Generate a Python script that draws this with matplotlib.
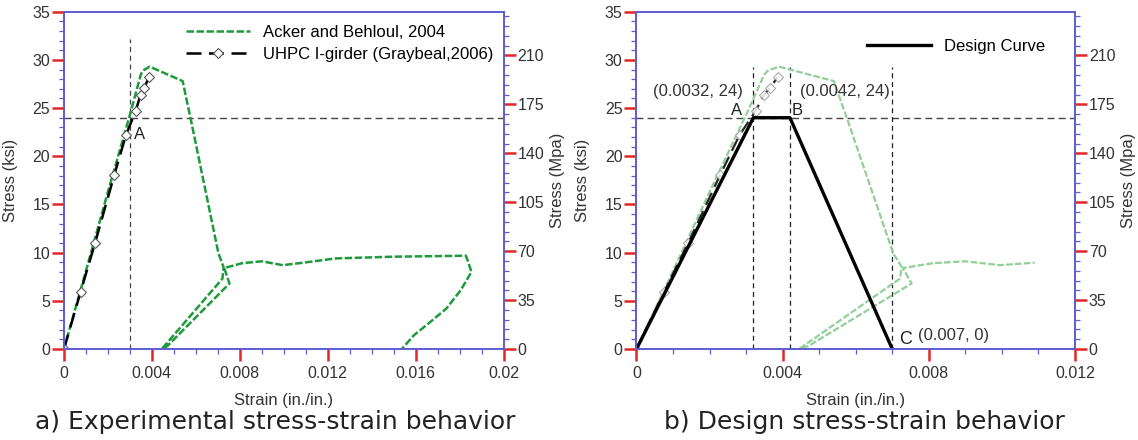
import numpy as np
import matplotlib
matplotlib.use("Agg")
import matplotlib.pyplot as plt
from matplotlib.ticker import MultipleLocator

plt.rcParams['font.family'] = ['Liberation Sans', 'DejaVu Sans']

KSI_TO_MPA = 6.895

# Acker and Behloul, 2004 (strain, ksi)
ack_strain = [0, 0.0010, 0.0020, 0.0030, 0.0035, 0.0036, 0.0039, 0.0054, 0.0058,
              0.00703, 0.00726, 0.00721, 0.00447, 0.00470, 0.00753, 0.00729,
              0.0081, 0.0090, 0.00995, 0.0109,
              0.01236, 0.0150, 0.01829, 0.01854, 0.01805, 0.0174, 0.01659, 0.01593, 0.01537]
ack_stress = [0, 8.1, 16.3, 24.3, 28.5, 28.9, 29.3, 27.8, 23.5,
              9.9, 8.5, 7.3, 0.05, 0.3, 6.8, 8.4,
              8.9, 9.1, 8.7, 8.96,
              9.4, 9.58, 9.68, 8.0, 6.1, 4.2, 2.66, 1.45, 0]
ack_b_count = 20  # panel b shows the curve only up to strain 0.0109

# UHPC I-girder (Graybeal, 2006)
uhpc_strain = [0, 0.00076, 0.00141, 0.00229, 0.00282, 0.00326, 0.00349, 0.00366, 0.00386]
uhpc_stress = [0, 5.95, 10.97, 18.06, 22.2, 24.7, 26.4, 27.1, 28.2]

# design curve
design_strain = [0, 0.0032, 0.0042, 0.007]
design_stress = [0, 24, 24, 0]

ylim_ksi = 35
spine_blue = '#5c5cd0'
tick_red = '#e02828'
green = '#1e9a3c'
light_green = '#93cf98'
ref_gray = '#444444'


def style_axes(ax, twin, xmax, xmajor):
    ax.set_xlim(0, xmax)
    ax.set_ylim(0, ylim_ksi)
    twin.set_ylim(0, ylim_ksi * KSI_TO_MPA)
    ax.xaxis.set_minor_locator(MultipleLocator(0.001))
    ax.yaxis.set_major_locator(MultipleLocator(5))
    ax.yaxis.set_minor_locator(MultipleLocator(1))
    twin.yaxis.set_major_locator(MultipleLocator(35))
    twin.yaxis.set_minor_locator(MultipleLocator(7))
    ax.set_xticks(np.arange(0, xmax + 1e-9, xmajor))
    ax.set_xticklabels(['0'] + ['%g' % v for v in np.arange(xmajor, xmax + 1e-9, xmajor)])
    for a in (ax, twin):
        for s in a.spines.values():
            s.set_color(spine_blue)
            s.set_linewidth(1.2)
        a.tick_params(which='major', length=8.5, width=1.8, color=tick_red,
                      labelsize=11.5, labelcolor='#333333', direction='out', pad=1.5)
        a.tick_params(which='minor', length=3.8, width=0.9, color=spine_blue, direction='out')
    ax.tick_params(axis='x', which='major', pad=4)
    ax.set_ylabel('Stress (ksi)', fontsize=12, color='#333333')
    ax.set_xlabel('Strain (in./in.)', fontsize=12, color='#333333')
    twin.set_ylabel('Stress (Mpa)', fontsize=12, color='#333333')
    ax.yaxis.set_label_coords(-0.105, 0.5)
    ax.xaxis.set_label_coords(0.5, -0.13)
    twin.yaxis.set_label_coords(1.105, 0.5)


fig = plt.figure(figsize=(11.38, 4.40), dpi=100)
ax1 = fig.add_axes([0.0562, 0.2068, 0.3863, 0.7666])
tw1 = ax1.twinx()
ax2 = fig.add_axes([0.5593, 0.2068, 0.3853, 0.7666])
tw2 = ax2.twinx()

# ---- panel a
style_axes(ax1, tw1, 0.02, 0.004)
ax1.axhline(24, color=ref_gray, lw=1, ls=(0, (5, 3)))
ax1.plot([0.003, 0.003], [0, 32.2], color=ref_gray, lw=0.9, ls=(0, (4, 3)))
ax1.plot(ack_strain, ack_stress, color=green, lw=1.8, ls=(0, (3, 1)),
         label='Acker and Behloul, 2004')
ax1.plot(uhpc_strain, uhpc_stress, color='black', lw=1.8, ls=(0, (6, 3)),
         marker='D', ms=5, mfc='white', mec='#555555', mew=0.8,
         label='UHPC I-girder (Graybeal,2006)')
ax1.text(0.0032, 22.3, 'A', fontsize=12, va='center', ha='left', color='#222222')
ax1.legend(loc='upper left', bbox_to_anchor=(0.2776, 0.96), frameon=False,
           fontsize=12, handlelength=3.85, handletextpad=0.78, borderpad=0,
           borderaxespad=0, labelspacing=0.4, numpoints=1)

# ---- panel b
style_axes(ax2, tw2, 0.012, 0.004)
ax2.axhline(24, color=ref_gray, lw=1, ls=(0, (5, 3)))
for xv in (0.0032, 0.0042, 0.007):
    ax2.plot([xv, xv], [0, 29.3], color='#222222', lw=0.9, ls=(0, (4, 3)))
ax2.plot(ack_strain[:ack_b_count], ack_stress[:ack_b_count], color=light_green,
         lw=1.6, ls=(0, (3, 1)))
ax2.plot(uhpc_strain, uhpc_stress, color='black', lw=1.6, ls=(0, (6, 3)), alpha=0.85,
         marker='D', ms=5, mfc='white', mec='#999999', mew=0.8)
ax2.plot(design_strain, design_stress, color='black', lw=2.4, label='Design Curve')
ax2.text(0.0029, 26.7, '(0.0032, 24)', fontsize=12, ha='right', va='center', color='#333333')
ax2.text(0.0029, 24.7, 'A', fontsize=12, ha='right', va='center', color='#222222')
ax2.text(0.00425, 24.7, 'B', fontsize=12, ha='left', va='center', color='#222222')
ax2.text(0.00447, 26.7, '(0.0042, 24)', fontsize=12, ha='left', va='center', color='#333333')
ax2.text(0.0072, 1.0, 'C', fontsize=13, ha='left', va='center', color='#222222')
ax2.text(0.0077, 1.45, '(0.007, 0)', fontsize=12, ha='left', va='center', color='#333333')
ax2.legend(loc='upper left', bbox_to_anchor=(0.526, 0.92), frameon=False,
           fontsize=12, handlelength=3.85, handletextpad=0.78, borderpad=0,
           borderaxespad=0)

fig.text(0.2417, 0.0416, 'a) Experimental stress-strain behavior', fontsize=18,
         ha='center', va='center', family='DejaVu Sans', color='#222222')
fig.text(0.760, 0.0416, 'b) Design stress-strain behavior', fontsize=18,
         ha='center', va='center', family='DejaVu Sans', color='#222222')

fig.savefig('out.png', dpi=100)
